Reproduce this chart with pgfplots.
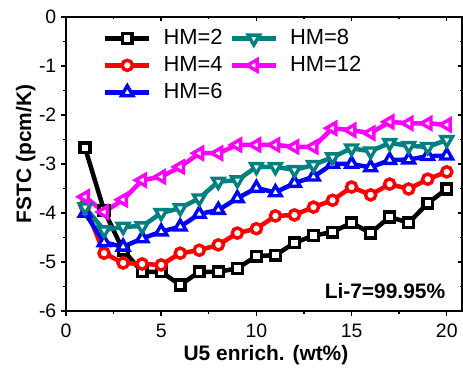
\documentclass[border=0pt]{standalone}
\usepackage{fontspec}
\setmainfont{Liberation Sans}
\usepackage{pgfplots}
\usepackage{pgfplotstable}
\pgfplotsset{compat=1.18}

\definecolor{hmteal}{RGB}{0,128,128}
\definecolor{hmmag}{RGB}{255,0,255}

% FSTC versus U-235 enrichment for several HM loadings
\pgfplotstableread{
x  hm2    hm4    hm6    hm8    hm12
1  -2.67  -3.85  -4.00  -3.88  -3.67
2  -3.95  -4.82  -4.60  -4.35  -3.98
3  -4.76  -5.02  -4.69  -4.28  -3.73
4  -5.20  -5.04  -4.52  -4.27  -3.33
5  -5.20  -5.06  -4.38  -4.00  -3.26
6  -5.47  -4.82  -4.28  -3.90  -3.06
7  -5.20  -4.76  -4.02  -3.70  -2.78
8  -5.20  -4.65  -3.94  -3.36  -2.78
9  -5.13  -4.41  -3.70  -3.33  -2.61
10 -4.88  -4.32  -3.49  -3.06  -2.61
11 -4.86  -4.06  -3.58  -3.06  -2.61
12 -4.61  -4.04  -3.39  -3.12  -2.65
13 -4.46  -3.88  -3.26  -3.02  -2.65
14 -4.39  -3.74  -3.00  -2.86  -2.27
15 -4.20  -3.47  -3.00  -2.68  -2.31
16 -4.41  -3.63  -3.07  -2.74  -2.37
17 -4.08  -3.41  -2.92  -2.57  -2.14
18 -4.20  -3.51  -2.91  -2.63  -2.17
19 -3.80  -3.31  -2.84  -2.65  -2.17
20 -3.51  -3.16  -2.83  -2.51  -2.20
}\fstc

\tikzset{
  hmA/.style={black, line width=4.5bp, mark=square*, mark size=4.9bp,
    mark options={solid, fill=white, line width=3.4bp}},
  hmB/.style={red, line width=4.5bp, mark=*, mark size=5.1bp,
    mark options={solid, fill=white, line width=3.4bp}},
  hmC/.style={blue, line width=4.5bp, mark=triangle*, mark size=6.6bp,
    mark options={solid, fill=white, line width=3.4bp}},
  hmD/.style={hmteal, line width=4.5bp, mark=triangle*, mark size=6.6bp,
    mark options={solid, fill=white, line width=3.4bp, rotate=180}},
  hmE/.style={hmmag, line width=4.5bp, mark=triangle*, mark size=6.6bp,
    mark options={solid, fill=white, line width=3.4bp, rotate=90}},
}

\pgfplotsset{
  frame/.style={
    scale only axis, width=396bp, height=294bp,
    at={(0,0)}, anchor=south west,
    xmin=0, xmax=20.8, ymin=-6, ymax=0,
    xtick={0,5,...,20}, ytick={-6,-5,...,0},
    minor x tick num=1, minor y tick num=1,
    major tick length=4.5bp, minor tick length=2.5bp,
    axis line style={line width=1.6bp},
    every tick/.style={black, line width=1.4bp},
  },
}

\begin{document}
\begin{tikzpicture}
\useasboundingbox (-66bp,-66bp) rectangle (397bp,311bp);

% top and right frame ticks point into the plot
\begin{axis}[frame, tick align=inside, xtick pos=upper, ytick pos=right,
  xticklabels={}, yticklabels={}]
\end{axis}

\begin{axis}[frame, tick align=outside, xtick pos=lower, ytick pos=left,
  /pgf/number format/assume math mode=true,
  ticklabel style={font=\fontsize{19.5}{21}\selectfont, inner sep=0pt},
  xticklabel style={yshift=-8.5bp},
  yticklabel style={xshift=-5bp},
  xlabel={\textbf{U5 enrich. (wt\%)}},
  ylabel={\textbf{FSTC (pcm/K)}},
  label style={font=\fontsize{21}{24}\selectfont},
  xlabel style={at={(axis description cs:0.505,0)}, anchor=base, yshift=-49bp},
  ylabel style={at={(axis description cs:-0.088,0.534)}, anchor=base},
  legend style={at={(axis description cs:0.093,0.962)}, anchor=north west,
    draw=none, fill=none, font=\fontsize{22}{24}\selectfont,
    inner sep=0pt, row sep=7bp,
    nodes={inner sep=0pt, text height=16bp, text depth=4bp},
    /tikz/every even column/.append style={column sep=7bp},
    /tikz/every odd column/.append style={column sep=12bp}},
  legend columns=2, legend cell align=left,
  legend image code/.code={
    \draw[#1, mark repeat=2, mark phase=2] plot coordinates {(0bp,0bp) (22bp,0bp) (44bp,0bp)};},
]
\addlegendimage{hmA} \addlegendentry{HM=2}
\addlegendimage{hmD} \addlegendentry{HM=8}
\addlegendimage{hmB} \addlegendentry{HM=4}
\addlegendimage{hmE} \addlegendentry{HM=12}
\addlegendimage{hmC} \addlegendentry{HM=6}

\addplot[hmA, forget plot] table[x=x, y=hm2]  {\fstc};
\addplot[hmB, forget plot] table[x=x, y=hm4]  {\fstc};
\addplot[hmC, forget plot] table[x=x, y=hm6]  {\fstc};
\addplot[hmD, forget plot] table[x=x, y=hm8]  {\fstc};
\addplot[hmE, forget plot] table[x=x, y=hm12] {\fstc};

\node[anchor=east, font=\bfseries\fontsize{21}{24}\selectfont]
  at (axis cs:20.1,-5.59) {Li-7=99.95\%};
\end{axis}
\end{tikzpicture}
\end{document}
